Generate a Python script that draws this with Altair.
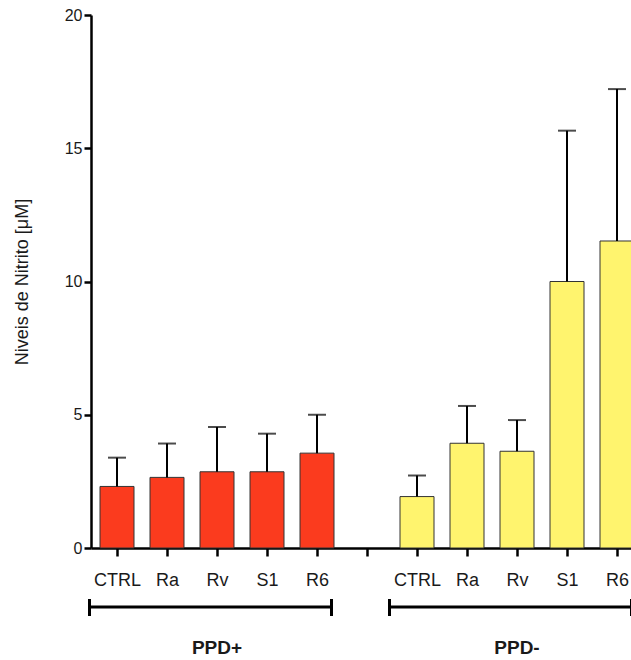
import json
import altair as alt
import pandas as pd

# ---- data ----
groups = ["PPD+", "PPD-"]
categories = ["CTRL", "Ra", "Rv", "S1", "R6"]
ppd_pos_mean = [2.31, 2.65, 2.86, 2.86, 3.56]
ppd_pos_err = [1.08, 1.27, 1.68, 1.43, 1.44]
ppd_neg_mean = [1.93, 3.93, 3.63, 10.00, 11.52]
ppd_neg_err = [0.79, 1.40, 1.17, 5.66, 5.70]
y_ticks = [0, 5, 10, 15, 20]

# ---- build tables ----
rows = []
means = [ppd_pos_mean, ppd_neg_mean]
errs = [ppd_pos_err, ppd_neg_err]
slot = len(categories) + 1  # one empty slot between the groups
for gi, g in enumerate(groups):
    for ci, c in enumerate(categories):
        m = means[gi][ci]
        rows.append({"pos": gi * slot + ci, "group": g, "cat": c,
                     "mean": m, "upper": m + errs[gi][ci]})
df = pd.DataFrame(rows)

tick_labels = []
for gi in range(len(groups)):
    tick_labels += categories
    if gi < len(groups) - 1:
        tick_labels.append("")
label_expr = json.dumps(tick_labels) + "[datum.value]"

brackets = pd.DataFrame({
    "group": groups,
    "start": [gi * slot - 0.55 for gi in range(len(groups))],
    "end": [gi * slot + len(categories) - 1 + 0.29 for gi in range(len(groups))],
    "center": [gi * slot + (len(categories) - 1) / 2 for gi in range(len(groups))],
})

FONT = "Liberation Sans"
RED = "#FB3B1E"
YELLOW = "#FFF46E"
INK = "#1a1a1a"

xscale = alt.Scale(domain=[-0.52, 10.28], nice=False, zero=False, padding=0)
yscale = alt.Scale(domain=[0, 20], nice=False, padding=0)

x_axis = alt.Axis(values=list(range(len(tick_labels))), labelExpr=label_expr,
                  title=None, grid=False, tickSize=8, tickWidth=2.5,
                  domainWidth=2.5, domainColor="black", tickColor="black",
                  labelFont=FONT, labelFontSize=18, labelColor=INK,
                  labelPadding=15, labelOverlap=False, labelFlush=False)
y_axis = alt.Axis(values=y_ticks, title="Niveis de Nitrito [μM]", grid=False,
                  tickSize=7, tickWidth=2.5, domainWidth=2.5,
                  domainColor="black", tickColor="black",
                  labelFont=FONT, labelFontSize=16, labelColor=INK,
                  labelPadding=2, titleFont=FONT, titleFontSize=18,
                  titleFontWeight="normal", titleColor=INK, titlePadding=33)

base = alt.Chart(df)

bars = base.mark_bar(size=34, stroke="#333333", strokeWidth=1).encode(
    x=alt.X("pos:Q", scale=xscale, axis=x_axis),
    y=alt.Y("mean:Q", scale=yscale, axis=y_axis),
    color=alt.Color("group:N", scale=alt.Scale(domain=groups, range=[RED, YELLOW]),
                    legend=None),
)

err_line = base.mark_rule(color="black", strokeWidth=2).encode(
    x=alt.X("pos:Q", scale=xscale),
    y=alt.Y("mean:Q", scale=yscale),
    y2="upper:Q",
)

err_cap = base.mark_tick(color="black", orient="horizontal", size=18,
                         thickness=2).encode(
    x=alt.X("pos:Q", scale=xscale),
    y=alt.Y("upper:Q", scale=yscale),
)

bchart = alt.Chart(brackets)
br_line = bchart.mark_rule(color="black", strokeWidth=3).encode(
    x=alt.X("start:Q", scale=xscale), x2="end:Q", y=alt.value(592))
br_left = bchart.mark_rule(color="black", strokeWidth=3).encode(
    x=alt.X("start:Q", scale=xscale), y=alt.value(584), y2=alt.value(601))
br_right = bchart.mark_rule(color="black", strokeWidth=3).encode(
    x=alt.X("end:Q", scale=xscale), y=alt.value(584), y2=alt.value(601))
br_text = bchart.mark_text(font=FONT, fontSize=19, fontWeight="bold",
                           color=INK, baseline="middle", align="center").encode(
    x=alt.X("center:Q", scale=xscale), y=alt.value(633), text="group:N")

chart = alt.layer(bars, err_line, err_cap, br_line, br_left, br_right, br_text).properties(
    width=540, height=533,
    autosize=alt.AutoSizeParams(type="none"),
    padding={"left": 91, "top": 15, "right": 0, "bottom": 112},
    background="white",
).configure_view(stroke=None)

chart.save("out.html", embed_options={"renderer": "svg", "actions": False})
